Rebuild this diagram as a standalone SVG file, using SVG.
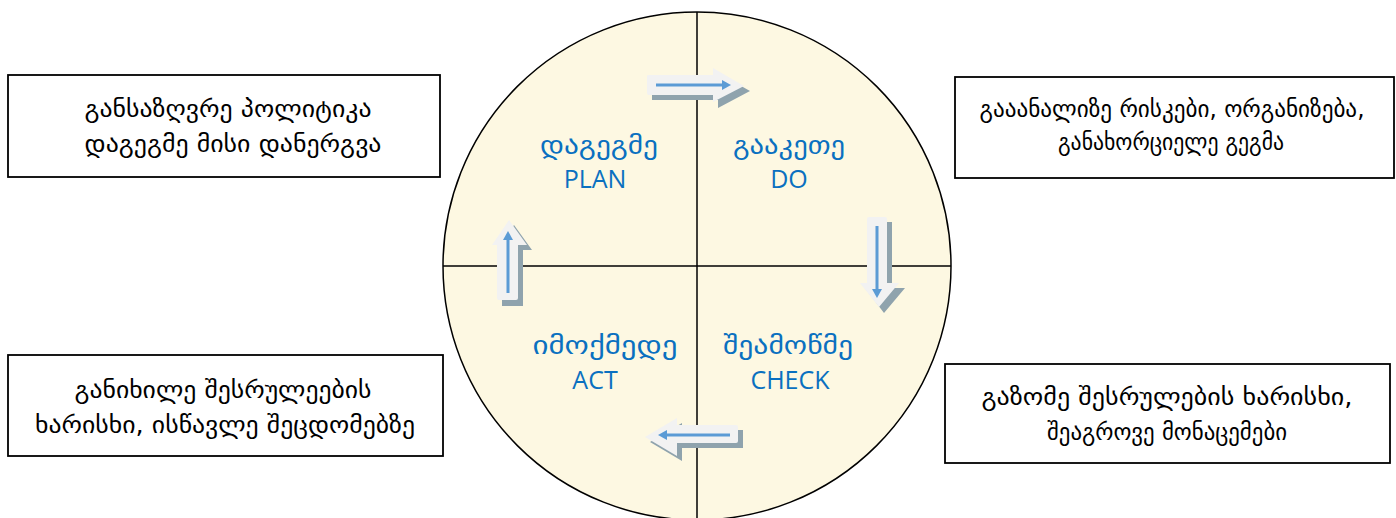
<svg xmlns="http://www.w3.org/2000/svg" width="1396" height="518" viewBox="0 0 1396 518">
<defs>
<style>
.box{fill:#fff;stroke:#000;stroke-width:1.8}
.bt{font-family:"DejaVu Sans","Noto Sans",sans-serif;font-size:24px;fill:#000;text-anchor:middle}
.ql{font-family:"DejaVu Sans","Noto Sans",sans-serif;font-size:25px;fill:#0a70c0;text-anchor:middle}
.en{font-family:"Open Sans","Noto Sans",sans-serif;font-size:25px;fill:#0a70c0;text-anchor:middle}
.sh{fill:#8fa3ad}
.ar{fill:#f2f2f2}
.bl{stroke:#5b9bd5;stroke-width:3;fill:none}
.bh{fill:#5b9bd5}
</style>
</defs>
<g id="cycle">
<circle cx="697" cy="266" r="254" fill="#fdf8e2" stroke="#000" stroke-width="1.5"/>
<line x1="443" y1="266" x2="951" y2="266" stroke="#000" stroke-width="1.5"/>
<line x1="697" y1="12" x2="697" y2="518" stroke="#000" stroke-width="1.5"/>
</g>
<g id="plan">
<text class="ql" x="599" y="154" textLength="118" lengthAdjust="spacingAndGlyphs">დაგეგმე</text>
<text class="en" x="595" y="188">PLAN</text>
</g>
<g id="do">
<text class="ql" x="789" y="154" textLength="112" lengthAdjust="spacingAndGlyphs">გააკეთე</text>
<text class="en" x="789" y="188">DO</text>
</g>
<g id="act">
<text class="ql" x="605" y="354" textLength="145" lengthAdjust="spacingAndGlyphs">იმოქმედე</text>
<text class="en" x="595" y="389">ACT</text>
</g>
<g id="check">
<text class="ql" x="788" y="354" textLength="130" lengthAdjust="spacingAndGlyphs">შეამოწმე</text>
<text class="en" x="790" y="389">CHECK</text>
</g>
<g id="connectors">
<!-- top arrow -->
<path class="sh" d="M652,81 H718 V73 L750,91 L718,108 V100 H652 Z"/>
<path class="ar" d="M647,76 Q647,75 649,75 H713 V68 L744,86 L713,102 V95 H649 Q647,95 647,93 Z"/>
<line class="bl" x1="656" y1="85" x2="725" y2="85"/>
<path class="bh" d="M731,85 L722,80 V90 Z"/>
<!-- down arrow -->
<path class="sh" d="M872,222 H892 V288 H905 L884,313 L865,288 H872 Z"/>
<path class="ar" d="M867,219 Q867,217 869,217 H885 Q887,217 887,219 V283 H899 L879,307 L860,283 H867 Z"/>
<line class="bl" x1="877" y1="226" x2="877" y2="291"/>
<path class="bh" d="M877,298 L872,289 H882 Z"/>
<!-- left arrow -->
<path class="sh" d="M743,430 H682 V423 L650,442 L682,461 V448 H743 Z"/>
<path class="ar" d="M738,427 Q738,425 736,425 H677 V418 L645,437 L677,456 V443 H736 Q738,443 738,441 Z"/>
<line class="bl" x1="730" y1="435" x2="665" y2="435"/>
<path class="bh" d="M658,435 L667,430 V440 Z"/>
<!-- up arrow -->
<path class="sh" d="M502,250 H497 L514,225 L532,250 H523 V306 H502 Z"/>
<path class="ar" d="M497,245 H492 L509,220 L527,245 H518 V298 Q518,300 516,300 H499 Q497,300 497,298 Z"/>
<line class="bl" x1="508" y1="293" x2="508" y2="238"/>
<path class="bh" d="M508,231 L503,240 H513 Z"/>
</g>
<g id="box-tl">
<rect class="box" x="8" y="75" width="432" height="102"/>
<text class="bt" x="228" y="117" textLength="287" lengthAdjust="spacingAndGlyphs">განსაზღვრე პოლიტიკა</text>
<text class="bt" x="233" y="152" textLength="297" lengthAdjust="spacingAndGlyphs">დაგეგმე მისი დანერგვა</text>
</g>
<g id="box-tr">
<rect class="box" x="955" y="77" width="439" height="101"/>
<text class="bt" x="1172" y="117" textLength="385" lengthAdjust="spacingAndGlyphs">გააანალიზე რისკები, ორგანიზება,</text>
<text class="bt" x="1171" y="150" textLength="226" lengthAdjust="spacingAndGlyphs">განახორციელე გეგმა</text>
</g>
<g id="box-bl">
<rect class="box" x="8" y="355" width="435" height="101"/>
<text class="bt" x="223" y="398" textLength="297" lengthAdjust="spacingAndGlyphs">განიხილე შესრულეების</text>
<text class="bt" x="225" y="433" textLength="380" lengthAdjust="spacingAndGlyphs">ხარისხი, ისწავლე შეცდომებზე</text>
</g>
<g id="box-br">
<rect class="box" x="945" y="364" width="445" height="99"/>
<text class="bt" x="1167" y="405" textLength="371" lengthAdjust="spacingAndGlyphs">გაზომე შესრულების ხარისხი,</text>
<text class="bt" x="1167" y="440" textLength="240" lengthAdjust="spacingAndGlyphs">შეაგროვე მონაცემები</text>
</g>
</svg>
